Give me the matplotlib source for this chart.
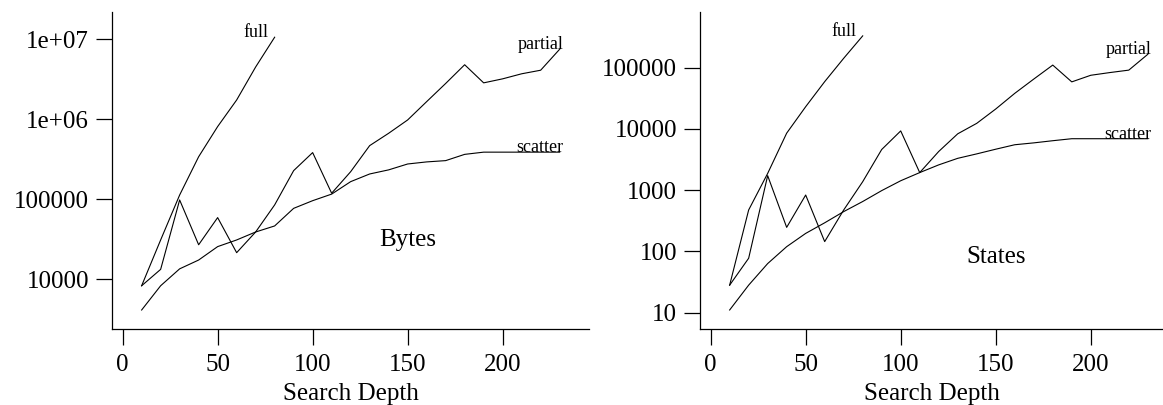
import matplotlib
matplotlib.use('Agg')
import matplotlib.pyplot as plt
from matplotlib.ticker import FixedLocator, FixedFormatter, NullLocator

plt.rcParams['font.family'] = ['Liberation Serif', 'DejaVu Serif']

# ============================================================================
# DATA
# ============================================================================
depth = [10, 20, 30, 40, 50, 60, 70, 80, 90, 100, 110, 120,
         130, 140, 150, 160, 170, 180, 190, 200, 210, 220, 230]
depth_full = [10, 20, 30, 40, 50, 60, 70, 80]

# Bytes
full_bytes = [8300, 31000, 113000, 340000, 810000, 1740000, 4500000, 10600000]
partial_bytes = [8300, 13300, 98000, 27000, 59000, 21500, 39000, 85000,
                 228000, 383000, 119000, 221000, 468000, 668000, 980000,
                 1660000, 2800000, 4800000, 2850000, 3200000, 3700000,
                 4100000, 7500000]
scatter_bytes = [4130, 8300, 13500, 17400, 25600, 31000, 39000, 46400,
                 77000, 96000, 116000, 166000, 207000, 233000, 276000,
                 293000, 304000, 364000, 388000, 388000, 388000, 388000,
                 388000]

# States
full_states = [28, 473, 1870, 8500, 23000, 59000, 142000, 330000]
partial_states = [28, 77, 1720, 246, 830, 144, 473, 1370, 4600, 9250, 1930,
                  4270, 8300, 12300, 21100, 38000, 65000, 110000, 58500,
                  75000, 83000, 91000, 165000]
scatter_states = [11, 28, 63, 119, 196, 292, 445, 650, 980, 1420, 1930,
                  2580, 3300, 3900, 4650, 5500, 5900, 6400, 6900, 6900,
                  6900, 6900, 6900]

bytes_ticks = [10000, 100000, 1e6, 1e7]
bytes_labels = ['10000', '100000', '1e+06', '1e+07']
states_ticks = [10, 100, 1000, 10000, 100000]
states_labels = ['10', '100', '1000', '10000', '100000']
x_ticks = [0, 50, 100, 150, 200]

# ============================================================================
# FIGURE
# ============================================================================
W, H = 1163, 405
fig = plt.figure(figsize=(W / 100, H / 100), dpi=100)

ax1 = fig.add_axes([112 / W, 1 - 329.3 / H, (589.3 - 112) / W, (329.3 - 12) / H])
ax2 = fig.add_axes([700 / W, 1 - 329.3 / H, (1163 - 700) / W, (329.3 - 12) / H])


def style_axis(ax, yticks, ylabels):
    ax.set_yscale('log')
    for s in ['top', 'right']:
        ax.spines[s].set_visible(False)
    for s in ['left', 'bottom']:
        ax.spines[s].set_linewidth(0.9)
    ax.yaxis.set_major_locator(FixedLocator(yticks))
    ax.yaxis.set_major_formatter(FixedFormatter(ylabels))
    ax.yaxis.set_minor_locator(NullLocator())
    ax.set_xticks(x_ticks)
    ax.tick_params(axis='both', direction='out', length=11.5, width=0.9,
                   labelsize=18)
    ax.tick_params(axis='y', pad=5)
    ax.tick_params(axis='x', pad=6)
    ax.set_xlabel('Search Depth', fontsize=18, labelpad=5)


def end_label(ax, x, y, text, dx):
    ax.annotate(text, (x, y), xytext=(dx * 0.72, 0), textcoords='offset points',
                ha='right', va='baseline', fontsize=13)


# Bytes panel
ax1.plot(depth_full, full_bytes, color='black', linewidth=0.8)
ax1.plot(depth, partial_bytes, color='black', linewidth=0.8)
ax1.plot(depth, scatter_bytes, color='black', linewidth=0.8)
style_axis(ax1, bytes_ticks, bytes_labels)
ax1.set_xlim(-5.6, 245.6)
ax1.set_ylim(2370, 2.19e7)
end_label(ax1, depth_full[-1], full_bytes[-1], 'full', -6)
end_label(ax1, depth[-1], partial_bytes[-1], 'partial', 4)
end_label(ax1, depth[-1], scatter_bytes[-1], 'scatter', 4)
ax1.text(150, 25700, 'Bytes', ha='center', va='baseline', fontsize=18)

# States panel
ax2.plot(depth_full, full_states, color='black', linewidth=0.8)
ax2.plot(depth, partial_states, color='black', linewidth=0.8)
ax2.plot(depth, scatter_states, color='black', linewidth=0.8)
style_axis(ax2, states_ticks, states_labels)
ax2.set_xlim(-5.6, 238)
ax2.set_ylim(5.32, 8.1e5)
end_label(ax2, depth_full[-1], full_states[-1], 'full', -6)
end_label(ax2, depth[-1], partial_states[-1], 'partial', 4)
end_label(ax2, depth[-1], scatter_states[-1], 'scatter', 4)
ax2.text(150, 65, 'States', ha='center', va='baseline', fontsize=18)

plt.savefig('out.png', dpi=100)
